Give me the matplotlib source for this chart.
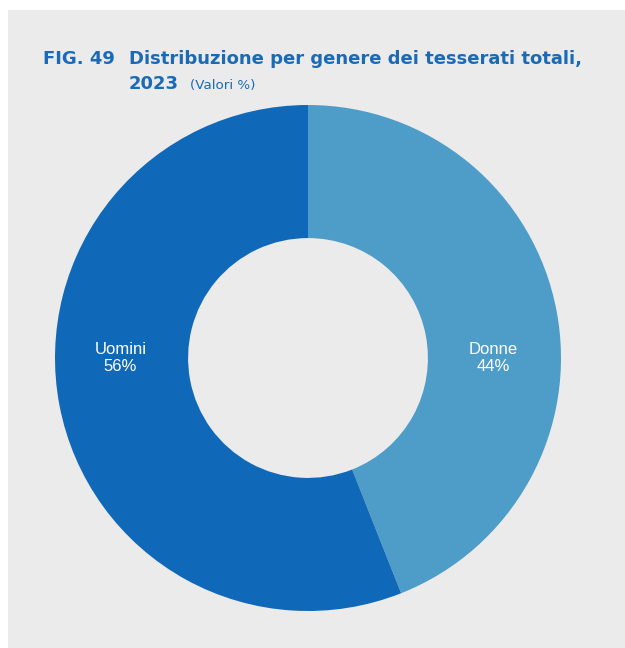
import matplotlib.pyplot as plt
from matplotlib.patches import Rectangle

generi = ['Donne', 'Uomini']
quote = [44, 56]
etichette = ['44%', '56%']
colori = ['#4e9dc8', '#1068b8']

W, H = 625, 648
fig = plt.figure(figsize=(W / 100, H / 100), dpi=100)
fig.patch.set_facecolor('white')

# sfondo grigio del riquadro
fig.add_artist(Rectangle((8 / W, 0), 1 - 8 / W, 1 - 10 / H,
                         transform=fig.transFigure, facecolor='#ebebeb',
                         edgecolor='none', zorder=-5))

titolo_col = '#1a6ab6'
font_tit = ['DejaVu Sans']
fig.text(43 / W, 1 - 64 / H, 'FIG. 49', color=titolo_col, fontsize=13,
         fontweight='bold', family=font_tit, va='baseline')
fig.text(129 / W, 1 - 64 / H, 'Distribuzione per genere dei tesserati totali,',
         color=titolo_col, fontsize=13, fontweight='bold', family=font_tit,
         va='baseline')
fig.text(129 / W, 1 - 89 / H, '2023', color=titolo_col, fontsize=13,
         fontweight='bold', family=font_tit, va='baseline')
fig.text(190 / W, 1 - 89 / H, '(Valori %)', color=titolo_col, fontsize=9.7,
         family=font_tit, va='baseline')

# ciambella
cx, cy, r = 308, H - 358, 253
ax = fig.add_axes([(cx - r) / W, (cy - r) / H, 2 * r / W, 2 * r / H])
ax.set_facecolor('none')
ax.set_zorder(2)
larghezza = 0.526
ax.pie(quote, colors=colori, startangle=90, counterclock=False, radius=1,
       wedgeprops=dict(width=larghezza, edgecolor='none'))
ax.set_xlim(-1, 1)
ax.set_ylim(-1, 1)
ax.set_aspect('equal')
ax.axis('off')

r_mid = 1 - larghezza / 2
for nome, et, lato in zip(generi, etichette, [1, -1]):
    ax.text(lato * r_mid - 0.005, 0, f'{nome}\n{et}', ha='center', va='center',
            color='white', fontsize=12, family='Liberation Sans',
            linespacing=1.2)

fig.savefig('out.png', dpi=100)
